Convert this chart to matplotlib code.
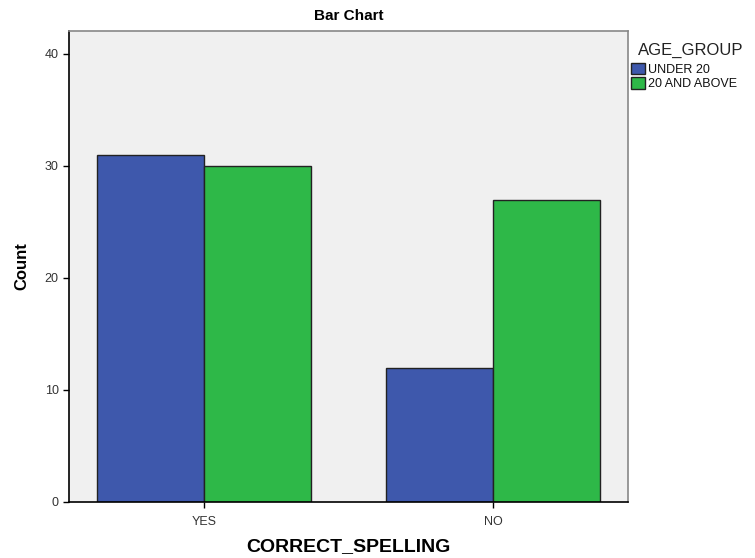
import matplotlib
matplotlib.use("Agg")
import matplotlib.pyplot as plt
import numpy as np

plt.rcParams["font.family"] = ["Liberation Sans", "DejaVu Sans"]

categories = ["YES", "NO"]
under_20 = [31, 12]
above_20 = [30, 27]
series_names = ["UNDER 20", "20 AND ABOVE"]
colors = ["#3E58AC", "#2EB848"]

W, H = 755, 558
fig = plt.figure(figsize=(W / 100, H / 100), dpi=100)
ax = fig.add_axes([69 / W, 1 - 502 / H, (628 - 69) / W, (502 - 31) / H])
ax.set_facecolor("#F0F0F0")

x = np.arange(len(categories))
w = 0.37
ax.bar(x - w / 2, under_20, w, color=colors[0], edgecolor="#222222", linewidth=1, label=series_names[0])
ax.bar(x + w / 2, above_20, w, color=colors[1], edgecolor="#222222", linewidth=1, label=series_names[1])

ax.set_xlim(-0.467, 1.467)
ax.set_ylim(0, 42.05)
ax.set_xticks(x)
ax.set_xticklabels(categories)
ax.set_yticks([0, 10, 20, 30, 40])
ax.tick_params(axis="both", labelsize=9, length=4, width=1, color="black",
               direction="out", labelcolor="#333333")
ax.tick_params(axis="x", pad=6)

for s in ["left", "bottom"]:
    ax.spines[s].set_color("black")
    ax.spines[s].set_linewidth(1.2)
for s in ["top", "right"]:
    ax.spines[s].set_color("#888888")
    ax.spines[s].set_linewidth(1.2)

ax.set_title("Bar Chart", fontsize=11, fontweight="bold", pad=8)
ax.set_ylabel("Count", fontsize=12, fontweight="bold", labelpad=11)
ax.set_xlabel("CORRECT_SPELLING", fontsize=14, fontweight="bold", labelpad=7)

# legend: title as separate text, entries below
fig.text(638 / W, 1 - 55 / H, "AGE_GROUP", fontsize=12, color="#222222",
         ha="left", va="baseline")
leg = ax.legend(loc="upper left", bbox_to_anchor=(631 / W, 1 - 63 / H),
                bbox_transform=fig.transFigure, frameon=False, fontsize=9,
                handlelength=1.1, handleheight=1.0, handletextpad=0.25,
                labelspacing=0.12, borderpad=0, borderaxespad=0)
for t in leg.get_texts():
    t.set_color("#111111")

fig.savefig("out.png", dpi=100)
